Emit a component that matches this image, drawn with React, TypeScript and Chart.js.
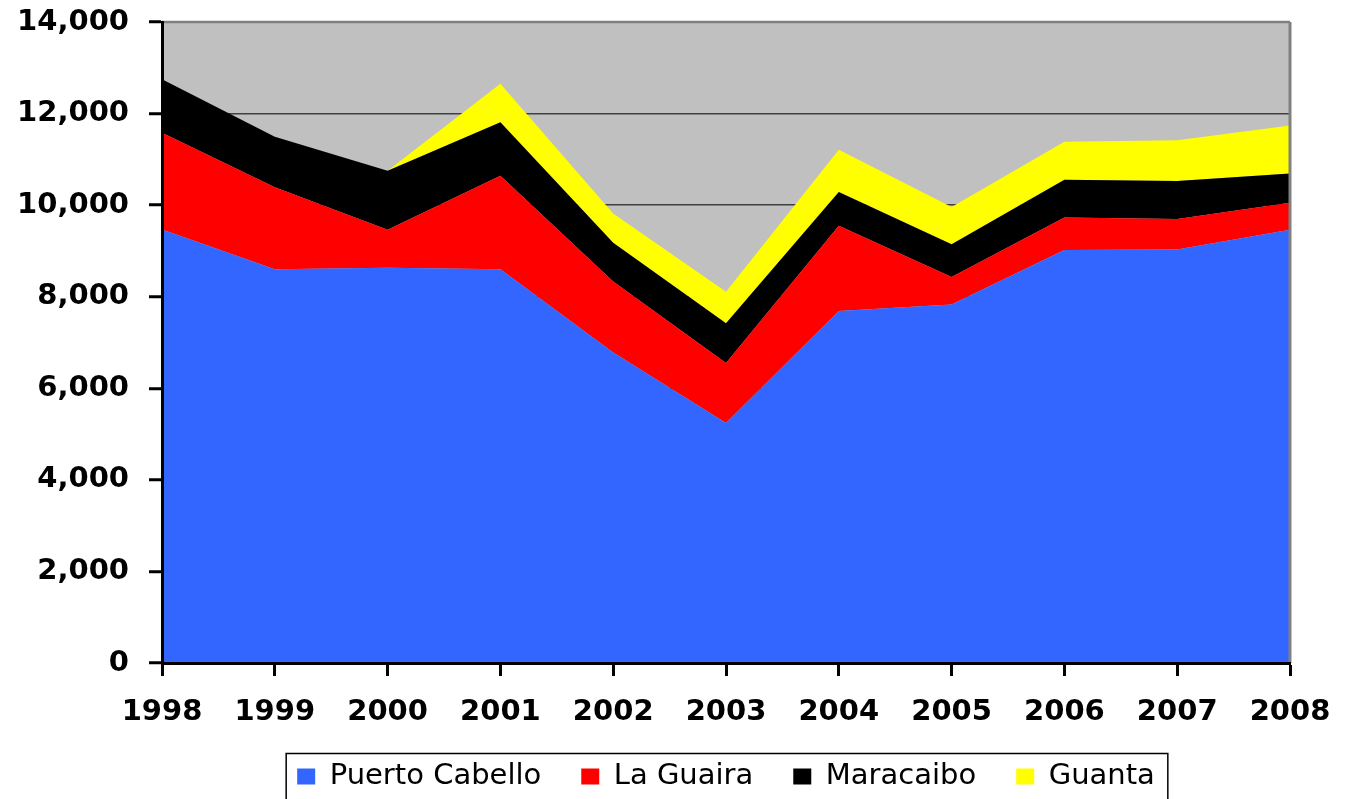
import { useEffect, useRef } from 'react';
import { Chart, registerables } from 'chart.js';

Chart.register(...registerables);

const years = ['1998', '1999', '2000', '2001', '2002', '2003', '2004', '2005', '2006', '2007', '2008'];
const puertoCabello = [9470, 8600, 8630, 8600, 6780, 5240, 7690, 7830, 9020, 9030, 9460];
const laGuaira = [2110, 1790, 830, 2040, 1550, 1310, 1860, 600, 710, 670, 590];
const maracaibo = [1170, 1105, 1290, 1170, 850, 870, 735, 715, 825, 825, 640];
const guanta = [0, 0, 0, 840, 640, 690, 925, 815, 830, 895, 1050];

const seriesNames = ['Puerto Cabello', 'La Guaira', 'Maracaibo', 'Guanta'];
const seriesColors = ['#3366FF', '#FF0000', '#000000', '#FFFF00'];
const yTicks = [0, 2000, 4000, 6000, 8000, 10000, 12000, 14000];

export default function App() {
  const ref = useRef<HTMLCanvasElement>(null);

  useEffect(() => {
    if (!ref.current) return;
    const plotPlugin = {
      id: 'plotDecor',
      beforeDraw(chart: any) {
        const { ctx, chartArea: a } = chart;
        ctx.save();
        ctx.fillStyle = '#C0C0C0';
        ctx.fillRect(a.left, a.top, a.right - a.left, a.bottom - a.top);
        ctx.restore();
      },
      afterDatasetsDraw(chart: any) {
        const { ctx, chartArea: a } = chart;
        ctx.save();
        ctx.strokeStyle = '#808080';
        ctx.lineWidth = 2.5;
        ctx.beginPath();
        ctx.moveTo(a.left, a.top);
        ctx.lineTo(a.right, a.top);
        ctx.stroke();
        ctx.lineWidth = 3;
        ctx.beginPath();
        ctx.moveTo(a.right, a.top);
        ctx.lineTo(a.right, a.bottom);
        ctx.stroke();
        ctx.restore();
      },
      afterDraw(chart: any) {
        const lg = chart.legend;
        if (!lg || !lg.legendHitBoxes || !lg.legendHitBoxes.length) return;
        const boxes = lg.legendHitBoxes;
        const first = boxes[0];
        const last = boxes[boxes.length - 1];
        const left = first.left - 11;
        const right = last.left + last.width + 13;
        const { ctx } = chart;
        ctx.save();
        ctx.strokeStyle = '#000000';
        ctx.lineWidth = 1.5;
        ctx.strokeRect(left, 753.5, right - left, 60);
        ctx.restore();
      },
    };

    const values = [puertoCabello, laGuaira, maracaibo, guanta];
    const chart = new Chart(ref.current, {
      type: 'line',
      data: {
        labels: years,
        datasets: values.map((v, i) => ({
          label: seriesNames[i],
          data: v,
          backgroundColor: seriesColors[i],
          borderColor: seriesColors[i],
          borderWidth: 0,
          pointRadius: 0,
          pointHoverRadius: 0,
          tension: 0,
          fill: i === 0 ? 'origin' : '-1',
        })),
      },
      options: {
        responsive: false,
        animation: false,
        devicePixelRatio: 1,
        layout: { padding: { left: 0, right: 56, top: 22, bottom: 0 } },
        plugins: {
          tooltip: { enabled: false },
          legend: {
            position: 'bottom',
            fullSize: false,
            maxHeight: 77,
            labels: {
              boxWidth: 18,
              boxHeight: 16,
              padding: 40,
              color: '#000000',
              font: { family: 'DejaVu Sans', size: 29 },
            },
          },
        },
        scales: {
          x: {
            type: 'category',
            offset: false,
            afterFit(scale: any) {
              scale.height = 59;
              scale.paddingLeft = 0;
              scale.paddingRight = 0;
            },
            grid: {
              drawOnChartArea: false,
              drawTicks: true,
              tickLength: 13,
              tickColor: '#000000',
              tickWidth: 3,
            },
            border: { display: true, color: '#000000', width: 3, z: 1 },
            ticks: {
              color: '#000000',
              padding: 19,
              maxRotation: 0,
              autoSkip: false,
              font: { family: 'DejaVu Sans', size: 29, weight: 'bold' },
            },
          },
          y: {
            stacked: true,
            min: 0,
            max: 14000,
            afterFit(scale: any) {
              scale.width = 162;
              scale.paddingTop = 0;
              scale.paddingBottom = 0;
            },
            afterBuildTicks(scale: any) { scale.ticks = yTicks.map((v) => ({ value: v })); },
            grid: {
              drawOnChartArea: true,
              color: '#404040',
              lineWidth: 1.5,
              drawTicks: true,
              tickLength: 13,
              tickColor: '#000000',
              tickWidth: 3,
            },
            border: { display: true, color: '#000000', width: 3, z: 1 },
            ticks: {
              color: '#000000',
              padding: 20,
              font: { family: 'DejaVu Sans', size: 29, weight: 'bold' },
              callback: (v: any) => Number(v).toLocaleString('en-US'),
            },
          },
        },
      },
      plugins: [plotPlugin],
    });
    return () => chart.destroy();
  }, []);

  return (
    <div style={{ position: 'fixed', left: 0, top: 0, width: 1346, height: 799, background: '#FFFFFF' }}>
      <canvas ref={ref} width={1346} height={799} style={{ display: 'block' }} />
    </div>
  );
}
